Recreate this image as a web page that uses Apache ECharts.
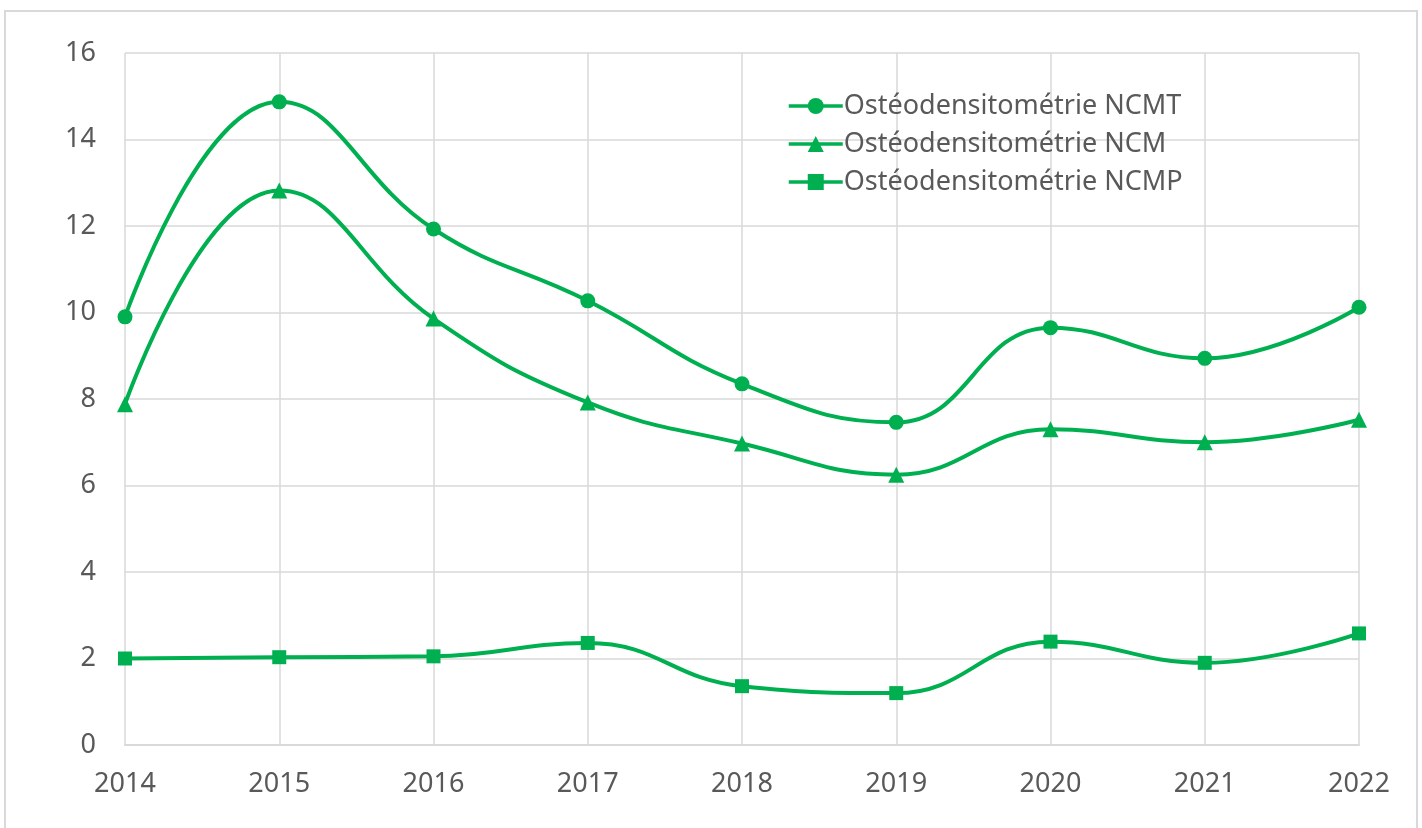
<!DOCTYPE html>
<html>
<head>
<meta charset="utf-8">
<script src="https://cdn.jsdelivr.net/npm/echarts@6/dist/echarts.min.js"></script>
<style>
html, body { margin: 0; padding: 0; background: #fff; }
#main { width: 1422px; height: 828px; }
</style>
</head>
<body>
<div id="main"></div>
<script>
var years = ['2014', '2015', '2016', '2017', '2018', '2019', '2020', '2021', '2022'];
var ncmt = [9.9, 14.87, 11.93, 10.27, 8.35, 7.46, 9.65, 8.94, 10.12];
var ncm = [7.88, 12.82, 9.86, 7.92, 6.97, 6.25, 7.3, 7.0, 7.52];
var ncmp = [2.0, 2.03, 2.05, 2.36, 1.36, 1.2, 2.39, 1.9, 2.58];
var yTicks = [0, 2, 4, 6, 8, 10, 12, 14, 16];

var green = '#00B050';
var font = 'Noto Sans';

var myChart = echarts.init(document.getElementById('main'));

function line(name, data, symbol, size) {
    return {
        name: name,
        type: 'line',
        data: data,
        smooth: 0.45,
        symbol: symbol,
        symbolSize: size,
        lineStyle: { color: green, width: 4 },
        itemStyle: { color: green },
        emphasis: { disabled: true }
    };
}

var option = {
    animation: false,
    graphic: [{
        type: 'rect',
        shape: { x: 5, y: 11, width: 1412, height: 830 },
        style: { fill: 'none', stroke: '#d9d9d9', lineWidth: 2 },
        silent: true
    }],
    grid: { left: 125, right: 63, top: 53, bottom: 83 },
    legend: {
        orient: 'vertical',
        left: 782,
        top: 86,
        itemWidth: 54,
        itemHeight: 20,
        itemGap: 8,
        lineStyle: { width: 3.5 },
        textStyle: { fontFamily: font, fontSize: 27, color: '#595959', lineHeight: 30, padding: [0, 0, 0, -4] },
        data: ['Ostéodensitométrie NCMT', 'Ostéodensitométrie NCM', 'Ostéodensitométrie NCMP']
    },
    xAxis: {
        type: 'category',
        data: years,
        boundaryGap: false,
        axisLine: { lineStyle: { color: '#d9d9d9', width: 2 } },
        axisTick: { show: false },
        axisLabel: { fontFamily: font, fontSize: 27, color: '#595959', margin: 26 },
        splitLine: { show: true, lineStyle: { color: '#d9d9d9', width: 1.5 } }
    },
    yAxis: {
        type: 'value',
        min: yTicks[0],
        max: yTicks[yTicks.length - 1],
        interval: 2,
        axisLine: { show: false },
        axisTick: { show: false },
        axisLabel: { fontFamily: font, fontSize: 27, color: '#595959', margin: 29 },
        splitLine: { lineStyle: { color: '#d9d9d9', width: 1.5 } }
    },
    series: [
        line('Ostéodensitométrie NCMT', ncmt, 'circle', 15),
        line('Ostéodensitométrie NCM', ncm, 'triangle', 16),
        line('Ostéodensitométrie NCMP', ncmp, 'rect', 14)
    ]
};

myChart.setOption(option);
</script>
</body>
</html>
